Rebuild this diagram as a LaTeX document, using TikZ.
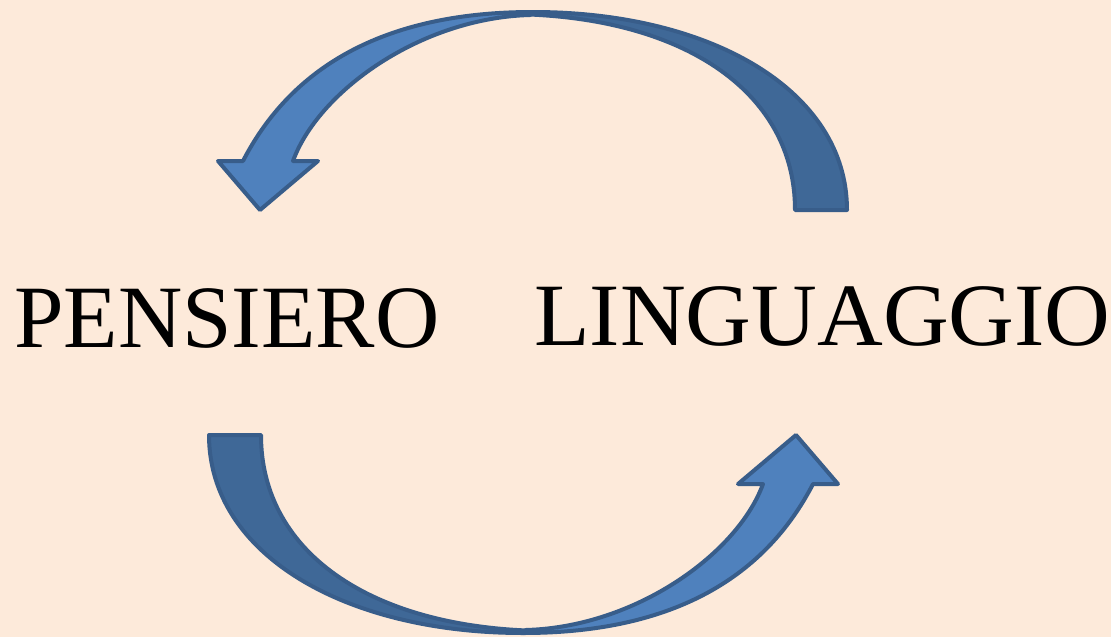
\documentclass[tikz,border=0pt]{standalone}
\usepackage{fontspec}
\setmainfont{Liberation Serif}
\definecolor{bgpeach}{HTML}{FDEADA}
\definecolor{frontblue}{HTML}{4F81BD}
\definecolor{backblue}{HTML}{3F6897}
\definecolor{edgeblue}{HTML}{385D8A}
\tikzset{
  frontpart/.style={fill=frontblue, draw=edgeblue, line width=4pt, line join=round},
  backpart/.style={fill=backblue, draw=edgeblue, line width=4pt, line join=round},
  wordstyle/.style={inner sep=0pt, font=\fontsize{89}{89}\selectfont, text=black},
}
\newcommand{\drawRibbonArrow}{%
  \path[backpart] (533,12) .. controls (710,12) and (847,90) .. (847,210)
     -- (795,210) .. controls (795,90) and (680,14) .. (505,14) -- cycle;
  \path[frontpart] (243,161) -- (218,161) -- (260,210) -- (318,161) -- (293,161)
     .. controls (318,92) and (420,18) .. (530,15) -- (533,12)
     .. controls (380,12) and (290,70) .. (243,161) -- cycle;
}
\begin{document}
\begin{tikzpicture}[x=1pt,y=-1pt]
  \fill[bgpeach] (0,0) rectangle (1111,637);
  \useasboundingbox (0,0) rectangle (1111,637);
  \drawRibbonArrow
  \begin{scope}[rotate around={180:(528,322.5)}]
    \drawRibbonArrow
  \end{scope}
  \node[wordstyle, anchor=base west] (pensiero) at (14,347) {PENSIERO};
  \node[wordstyle, anchor=base west, xscale=1.023] (linguaggio) at (534,345) {LINGUAGGIO};
\end{tikzpicture}
\end{document}
